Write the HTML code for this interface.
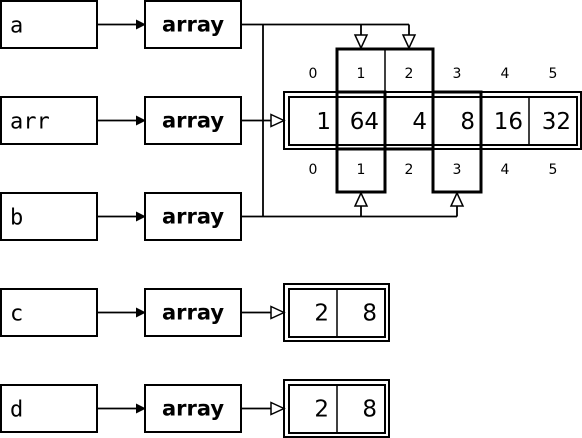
<!DOCTYPE html>
<html><head><meta charset="utf-8"><style>
html,body{margin:0;padding:0;background:#fff;}
svg{display:block;}
.lbl{font-family:"DejaVu Sans Mono","Liberation Mono",monospace;font-size:22px;}
.arr{font-family:"DejaVu Sans","Liberation Sans",sans-serif;font-size:21px;font-weight:bold;}
.val{font-family:"DejaVu Sans","Liberation Sans",sans-serif;font-size:23px;}
.idx{font-family:"DejaVu Sans","Liberation Sans",sans-serif;font-size:14px;}
</style></head><body>
<svg width="582" height="438" viewBox="0 0 582 438">
<defs>
<marker id="solid" markerWidth="10" markerHeight="10" refX="9" refY="5" orient="auto" markerUnits="userSpaceOnUse"><path d="M0,0 L10,5 L0,10 z" fill="#000"/></marker>
</defs>
</svg>
<script>
const names=['a','arr','b','c','d'];
const mainVals=[1,64,4,8,16,32];
const smallVals=[2,8];
const svg=document.querySelector('svg');
const NS='http://www.w3.org/2000/svg';
function mk(tag,attrs,parent){const e=document.createElementNS(NS,tag);for(const k in attrs)e.setAttribute(k,attrs[k]);(parent||svg).appendChild(e);return e;}
function txt(s,x,y,cls,anchor){const t=mk('text',{x:x,y:y,class:cls,'text-anchor':anchor||'start'});t.textContent=s;return t;}
function hollowArrow(x,y,dir){
  let d;
  if(dir==='right')d=`M${x},${y} L${x-13},${y-6} L${x-13},${y+6} z`;
  if(dir==='down')d=`M${x},${y} L${x-6},${y-13} L${x+6},${y-13} z`;
  if(dir==='up')d=`M${x},${y} L${x-6},${y+13} L${x+6},${y+13} z`;
  return mk('path',{d:d,fill:'#fff',stroke:'#000','stroke-width':1.5});
}
const rowTop=[1,97,193,289,385];
names.forEach((n,i)=>{
  const y=rowTop[i],cy=y+23.5;
  const b=mk('rect',{x:1,y:y,width:96,height:47,fill:'#fff',stroke:'#000','stroke-width':2});
  
  
  const t=txt(n,10,cy+8,'lbl');
  
  
  const l=mk('line',{x1:97,y1:cy,x2:145,y2:cy,stroke:'#000','stroke-width':1.8,'marker-end':'url(#solid)'});
  
  
  const ab=mk('rect',{x:145,y:y,width:96,height:47,fill:'#fff',stroke:'#000','stroke-width':2});
  
  
  const at=txt('array',193,cy+7,'arr','middle');
  
  
});
const L=(x1,y1,x2,y2,w)=>mk('line',{x1,y1,x2,y2,stroke:'#000','stroke-width':w||1.8});
L(241,24.5,409,24.5);L(263,24.5,263,216.5);L(241,216.5,457,216.5);
L(361,24.5,361,35);L(409,24.5,409,35);
hollowArrow(361,48,'down');hollowArrow(409,48,'down');
L(361,216.5,361,205);L(457,216.5,457,205);
hollowArrow(361,193,'up');hollowArrow(457,193,'up');
L(241,120.5,272,120.5);hollowArrow(284,120.5,'right');
const cellW=48,x0=289;
const ob=mk('rect',{x:284,y:92,width:297,height:57,fill:'none',stroke:'#000','stroke-width':2});


mk('rect',{x:289,y:97,width:288,height:48,fill:'none',stroke:'#000','stroke-width':2});
mainVals.forEach((v,i)=>{
  const cx=x0+i*cellW;
  if(i>0)L(cx,97,cx,145,1.5);
  const t=txt(String(v),cx+cellW-6,129,'val','end');
  
  
  const t1=txt(String(i),cx+cellW/2,78,'idx','middle');
  
  
  const t2=txt(String(i),cx+cellW/2,174,'idx','middle');
  
  
});
const s1=mk('rect',{x:337,y:49,width:96,height:100,fill:'none',stroke:'#000','stroke-width':3});


L(385,49,385,92,1.5);
const s2=mk('rect',{x:337,y:92,width:48,height:100,fill:'none',stroke:'#000','stroke-width':3});


const s3=mk('rect',{x:433,y:92,width:48,height:100,fill:'none',stroke:'#000','stroke-width':3});


[289,385].forEach((y,k)=>{
  const cy=y+23.5;
  L(241,cy,272,cy);hollowArrow(284,cy,'right');
  const o=mk('rect',{x:284,y:y-5,width:105,height:57,fill:'none',stroke:'#000','stroke-width':2});
  
  
  mk('rect',{x:289,y:y,width:96,height:48,fill:'none',stroke:'#000','stroke-width':2});
  L(337,y,337,y+48,1.5);
  smallVals.forEach((v,i)=>{
    const t=txt(String(v),289+i*cellW+cellW-8,cy+8,'val','end');
    
    
  });
});
</script>
</body></html>
